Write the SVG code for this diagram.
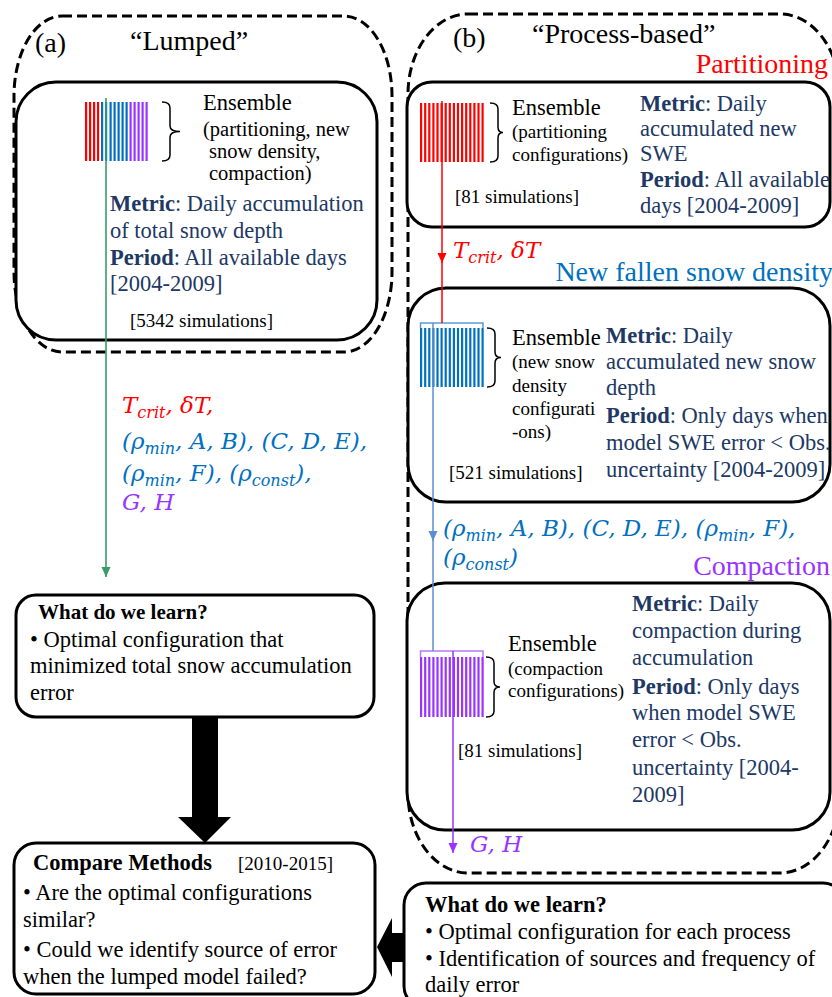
<svg xmlns="http://www.w3.org/2000/svg" width="832" height="997" viewBox="0 0 832 997">
<defs>
<marker id="ah-green" markerUnits="userSpaceOnUse" markerWidth="10" markerHeight="10" refX="10" refY="5" orient="auto"><path d="M0,0.5 L10,5 L0,9.5 z" fill="#3a9a6a"/></marker>
<marker id="ah-red" markerUnits="userSpaceOnUse" markerWidth="10" markerHeight="10" refX="10" refY="5" orient="auto"><path d="M0,0.5 L10,5 L0,9.5 z" fill="#ff0000"/></marker>
<marker id="ah-blue" markerUnits="userSpaceOnUse" markerWidth="10" markerHeight="10" refX="10" refY="5" orient="auto"><path d="M0,0.5 L10,5 L0,9.5 z" fill="#5b8fcf"/></marker>
<marker id="ah-purple" markerUnits="userSpaceOnUse" markerWidth="10" markerHeight="10" refX="10" refY="5" orient="auto"><path d="M0,0.5 L10,5 L0,9.5 z" fill="#9933ff"/></marker>
</defs>
<style>
.t{font-family:"Liberation Serif","Times New Roman",serif;fill:#000}
.b{font-weight:bold}
.title{font-size:28px}
.body{font-size:22.5px}
.navy{fill:#203864}
.ens{font-size:22.5px}
.sub{font-size:19px}
.sim{font-size:19px}
.m{font-family:"DejaVu Serif",serif;font-style:italic;font-size:23px}
.ms{font-size:16px}
.red{fill:#ff0000}
.blu{fill:#0070c0}
.pur{fill:#9933ff}
.box{fill:#fff;stroke:#000;stroke-width:3}
.dash{fill:none;stroke:#000;stroke-width:3;stroke-dasharray:10 5}
.brace{fill:none;stroke:#000;stroke-width:1.5}
.r{fill:#ff0000}.bl{fill:#0070c0}.p{fill:#9933ff}
</style>
<rect x="0" y="0" width="832" height="997" fill="#fff"/>

<g id="group-lumped">
<rect class="dash" x="14" y="16" width="378" height="336" rx="48" ry="80"/>
<text class="t title" x="35" y="52">(a)</text>
<text class="t title" x="130" y="50">“Lumped”</text>
</g>

<g id="group-process">
<rect class="dash" x="408" y="14" width="432" height="859" rx="60" ry="80"/>
<text class="t title" x="453" y="47">(b)</text>
<text class="t title" x="532" y="43">“Process-based”</text>
</g>

<g id="node-lumped-ensemble">
<rect class="box" x="16" y="82" width="361" height="258" rx="40"/>
<g>
<rect class="r" x="85" y="102" width="2.2" height="59"/><rect class="r" x="89" y="102" width="2.2" height="59"/><rect class="r" x="93" y="102" width="2.2" height="59"/><rect class="r" x="97" y="102" width="2.2" height="59"/>
<rect class="bl" x="101" y="102" width="2.2" height="59"/><rect class="bl" x="105" y="102" width="2.2" height="59"/><rect class="bl" x="109.5" y="102" width="2.2" height="59"/><rect class="bl" x="113.5" y="102" width="2.2" height="59"/><rect class="bl" x="117.5" y="102" width="2.2" height="59"/><rect class="bl" x="121.5" y="102" width="2.2" height="59"/><rect class="bl" x="125.5" y="102" width="2.2" height="59"/>
<rect class="p" x="129.5" y="102" width="2.2" height="59"/><rect class="p" x="133.5" y="102" width="2.2" height="59"/><rect class="p" x="137.5" y="102" width="2.2" height="59"/><rect class="p" x="141.5" y="102" width="2.2" height="59"/><rect class="p" x="145.5" y="102" width="2.2" height="59"/>
</g>
<path class="brace" d="M162,102 Q170,102 170,108 L170,126 Q170,131.5 180,131.5 Q170,131.5 170,137 L170,155 Q170,161 162,161"/>
<text class="t ens" x="203" y="110">Ensemble</text>
<text class="t sub" x="203" y="136" style="font-size:20.5px">(partitioning, new</text>
<text class="t sub" x="209" y="158" style="font-size:20.5px">snow density,</text>
<text class="t sub" x="209" y="180" style="font-size:20.5px">compaction)</text>
<text class="t body navy" x="110" y="211"><tspan class="b">Metric</tspan>: Daily accumulation</text>
<text class="t body navy" x="110" y="238">of total snow depth</text>
<text class="t body navy" x="110" y="265"><tspan class="b">Period</tspan>: All available days</text>
<text class="t body navy" x="110" y="291">[2004-2009]</text>
<text class="t sim" x="130" y="327">[5342 simulations]</text>
</g>

<g id="node-lumped-learn">
<rect class="box" x="16" y="595" width="358" height="122" rx="20"/>
<text class="t body b" x="38" y="619" style="font-size:21px">What do we learn?</text>
<text class="t body" x="30" y="647">• Optimal configuration that</text>
<text class="t body" x="30" y="673">minimized total snow accumulation</text>
<text class="t body" x="30" y="700">error</text>
</g>

<g id="node-partitioning">
<text class="t title red" x="828" y="73" text-anchor="end">Partitioning</text>
<rect class="box" x="407" y="82" width="423" height="145" rx="25"/>
<g>
<rect class="r" x="420" y="103" width="2.2" height="59"/><rect class="r" x="424.1" y="103" width="2.2" height="59"/><rect class="r" x="428.2" y="103" width="2.2" height="59"/><rect class="r" x="432.3" y="103" width="2.2" height="59"/><rect class="r" x="436.4" y="103" width="2.2" height="59"/><rect class="r" x="440.5" y="103" width="2.2" height="59"/><rect class="r" x="444.6" y="103" width="2.2" height="59"/><rect class="r" x="448.7" y="103" width="2.2" height="59"/><rect class="r" x="452.8" y="103" width="2.2" height="59"/><rect class="r" x="456.9" y="103" width="2.2" height="59"/><rect class="r" x="461" y="103" width="2.2" height="59"/><rect class="r" x="465.1" y="103" width="2.2" height="59"/><rect class="r" x="469.2" y="103" width="2.2" height="59"/><rect class="r" x="473.3" y="103" width="2.2" height="59"/><rect class="r" x="477.4" y="103" width="2.2" height="59"/><rect class="r" x="481.5" y="103" width="2.2" height="59"/>
</g>
<path class="brace" d="M490,103 Q498,103 498,109 L498,127 Q498,132.5 503,132.5 Q498,132.5 498,138 L498,156 Q498,162 490,162"/>
<text class="t ens" x="512" y="115">Ensemble</text>
<text class="t sub" x="512" y="138">(partitioning</text>
<text class="t sub" x="512" y="161">configurations)</text>
<text class="t sim" x="455" y="203">[81 simulations]</text>
<text class="t body navy" x="640" y="111"><tspan class="b">Metric</tspan>: Daily</text>
<text class="t body navy" x="640" y="136">accumulated new</text>
<text class="t body navy" x="640" y="161">SWE</text>
<text class="t body navy" x="640" y="187"><tspan class="b">Period</tspan>: All available</text>
<text class="t body navy" x="640" y="213">days [2004-2009]</text>
</g>

<g id="node-density">
<text class="t title blu" x="833" y="281" text-anchor="end">New fallen snow density</text>
<rect class="box" x="408" y="288" width="422" height="214" rx="38"/>
<g>
<rect class="bl" x="420" y="328" width="2.2" height="59"/><rect class="bl" x="424.1" y="328" width="2.2" height="59"/><rect class="bl" x="428.2" y="328" width="2.2" height="59"/><rect class="bl" x="432.3" y="328" width="2.2" height="59"/><rect class="bl" x="436.4" y="328" width="2.2" height="59"/><rect class="bl" x="440.5" y="328" width="2.2" height="59"/><rect class="bl" x="444.6" y="328" width="2.2" height="59"/><rect class="bl" x="448.7" y="328" width="2.2" height="59"/><rect class="bl" x="452.8" y="328" width="2.2" height="59"/><rect class="bl" x="456.9" y="328" width="2.2" height="59"/><rect class="bl" x="461" y="328" width="2.2" height="59"/><rect class="bl" x="465.1" y="328" width="2.2" height="59"/><rect class="bl" x="469.2" y="328" width="2.2" height="59"/><rect class="bl" x="473.3" y="328" width="2.2" height="59"/><rect class="bl" x="477.4" y="328" width="2.2" height="59"/><rect class="bl" x="481.5" y="328" width="2.2" height="59"/>
</g>
<path d="M420.5,328 V323 H483 V328" fill="none" stroke="#5b9bd5" stroke-width="1.5"/>
<path class="brace" d="M487,328 Q495,328 495,334 L495,352 Q495,357.5 501,357.5 Q495,357.5 495,363 L495,381 Q495,387 487,387"/>
<text class="t ens" x="512" y="345">Ensemble</text>
<text class="t sub" x="512" y="368">(new snow</text>
<text class="t sub" x="512" y="392">density</text>
<text class="t sub" x="512" y="415">configurati</text>
<text class="t sub" x="512" y="438">-ons)</text>
<text class="t sim" x="449" y="479">[521 simulations]</text>
<text class="t body navy" x="606" y="343"><tspan class="b">Metric</tspan>: Daily</text>
<text class="t body navy" x="606" y="369">accumulated new snow</text>
<text class="t body navy" x="606" y="395">depth</text>
<text class="t body navy" x="606" y="423"><tspan class="b">Period</tspan>: Only days when</text>
<text class="t body navy" x="606" y="450">model SWE error &lt; Obs.</text>
<text class="t body navy" x="606" y="477">uncertainty [2004-2009]</text>
</g>

<g id="node-compaction">
<text class="t title pur" x="830" y="575" text-anchor="end">Compaction</text>
<rect class="box" x="407" y="583" width="423" height="247" rx="38"/>
<g>
<rect class="p" x="420" y="657" width="2.2" height="60"/><rect class="p" x="424.1" y="657" width="2.2" height="60"/><rect class="p" x="428.2" y="657" width="2.2" height="60"/><rect class="p" x="432.3" y="657" width="2.2" height="60"/><rect class="p" x="436.4" y="657" width="2.2" height="60"/><rect class="p" x="440.5" y="657" width="2.2" height="60"/><rect class="p" x="444.6" y="657" width="2.2" height="60"/><rect class="p" x="448.7" y="657" width="2.2" height="60"/><rect class="p" x="452.8" y="657" width="2.2" height="60"/><rect class="p" x="456.9" y="657" width="2.2" height="60"/><rect class="p" x="461" y="657" width="2.2" height="60"/><rect class="p" x="465.1" y="657" width="2.2" height="60"/><rect class="p" x="469.2" y="657" width="2.2" height="60"/><rect class="p" x="473.3" y="657" width="2.2" height="60"/><rect class="p" x="477.4" y="657" width="2.2" height="60"/><rect class="p" x="481.5" y="657" width="2.2" height="60"/>
</g>
<path d="M420.5,657 V651 H483 V657" fill="none" stroke="#b57bff" stroke-width="1.5"/>
<path class="brace" d="M486,657 Q494,657 494,663 L494,681.5 Q494,687 500,687 Q494,687 494,692.5 L494,711 Q494,717 486,717"/>
<text class="t ens" x="508" y="651">Ensemble</text>
<text class="t sub" x="508" y="675">(compaction</text>
<text class="t sub" x="508" y="697">configurations)</text>
<text class="t sim" x="458" y="757">[81 simulations]</text>
<text class="t body navy" x="632" y="611"><tspan class="b">Metric</tspan>: Daily</text>
<text class="t body navy" x="632" y="638">compaction during</text>
<text class="t body navy" x="632" y="665">accumulation</text>
<text class="t body navy" x="632" y="694"><tspan class="b">Period</tspan>: Only days</text>
<text class="t body navy" x="632" y="720">when model SWE</text>
<text class="t body navy" x="632" y="747">error &lt; Obs.</text>
<text class="t body navy" x="632" y="775">uncertainty [2004-</text>
<text class="t body navy" x="632" y="802">2009]</text>
</g>

<g id="node-compare">
<rect class="box" x="14" y="843" width="361" height="151" rx="22"/>
<text class="t body b" x="33" y="870">Compare Methods</text>
<text class="t" x="238" y="870" style="font-size:19px">[2010-2015]</text>
<text class="t body" x="23" y="900">• Are the optimal configurations</text>
<text class="t body" x="23" y="927">similar?</text>
<text class="t body" x="23" y="957">• Could we identify source of error</text>
<text class="t body" x="23" y="984">when the lumped model failed?</text>
</g>

<g id="node-process-learn">
<rect class="box" x="404" y="883" width="441" height="125" rx="22"/>
<text class="t body b" x="425" y="912">What do we learn?</text>
<text class="t body" x="425" y="939">• Optimal configuration for each process</text>
<text class="t body" x="425" y="966">• Identification of sources and frequency of</text>
<text class="t body" x="425" y="992">daily error</text>
</g>

<g id="connectors">
<line x1="106" y1="98" x2="106" y2="577" stroke="#3a9a6a" stroke-width="1.6" marker-end="url(#ah-green)"/>
<line x1="442" y1="101" x2="442" y2="263" stroke="#ff0000" stroke-width="1.5" marker-end="url(#ah-red)"/>
<line x1="442" y1="262" x2="442" y2="323" stroke="#ff0000" stroke-width="1.5"/>
<line x1="433" y1="323" x2="433" y2="541" stroke="#5b8fcf" stroke-width="1.5" marker-end="url(#ah-blue)"/>
<line x1="433" y1="540" x2="433" y2="651" stroke="#5b8fcf" stroke-width="1.5"/>
<line x1="453" y1="651" x2="453" y2="853" stroke="#9933ff" stroke-width="1.5" marker-end="url(#ah-purple)"/>
<polygon points="192,717 218,717 218,817 231,817 205,843 178,817 192,817" fill="#000"/>
<polygon points="405,933 392,933 392,918 377,947 392,977 392,962 405,962" fill="#000"/>
</g>

<g id="labels">
<text class="m red" x="122" y="413">T<tspan class="ms" dy="5">crit</tspan><tspan dy="-5">, δT,</tspan></text>
<text class="m blu" x="122" y="449">(ρ<tspan class="ms" dy="5">min</tspan><tspan dy="-5">, A, B), (C, D, E),</tspan></text>
<text class="m blu" x="122" y="481">(ρ<tspan class="ms" dy="5">min</tspan><tspan dy="-5">, F), (ρ</tspan><tspan class="ms" dy="5">const</tspan><tspan dy="-5">),</tspan></text>
<text class="m pur" x="122" y="510">G, H</text>
<text class="m red" x="453" y="258">T<tspan class="ms" dy="5">crit</tspan><tspan dy="-5">, δT</tspan></text>
<text class="m blu" x="443" y="536">(ρ<tspan class="ms" dy="5">min</tspan><tspan dy="-5">, A, B), (C, D, E), (ρ</tspan><tspan class="ms" dy="5">min</tspan><tspan dy="-5">, F),</tspan></text>
<text class="m blu" x="443" y="565">(ρ<tspan class="ms" dy="5">const</tspan><tspan dy="-5">)</tspan></text>
<text class="m pur" x="470" y="852">G, H</text>
</g>
</svg>
